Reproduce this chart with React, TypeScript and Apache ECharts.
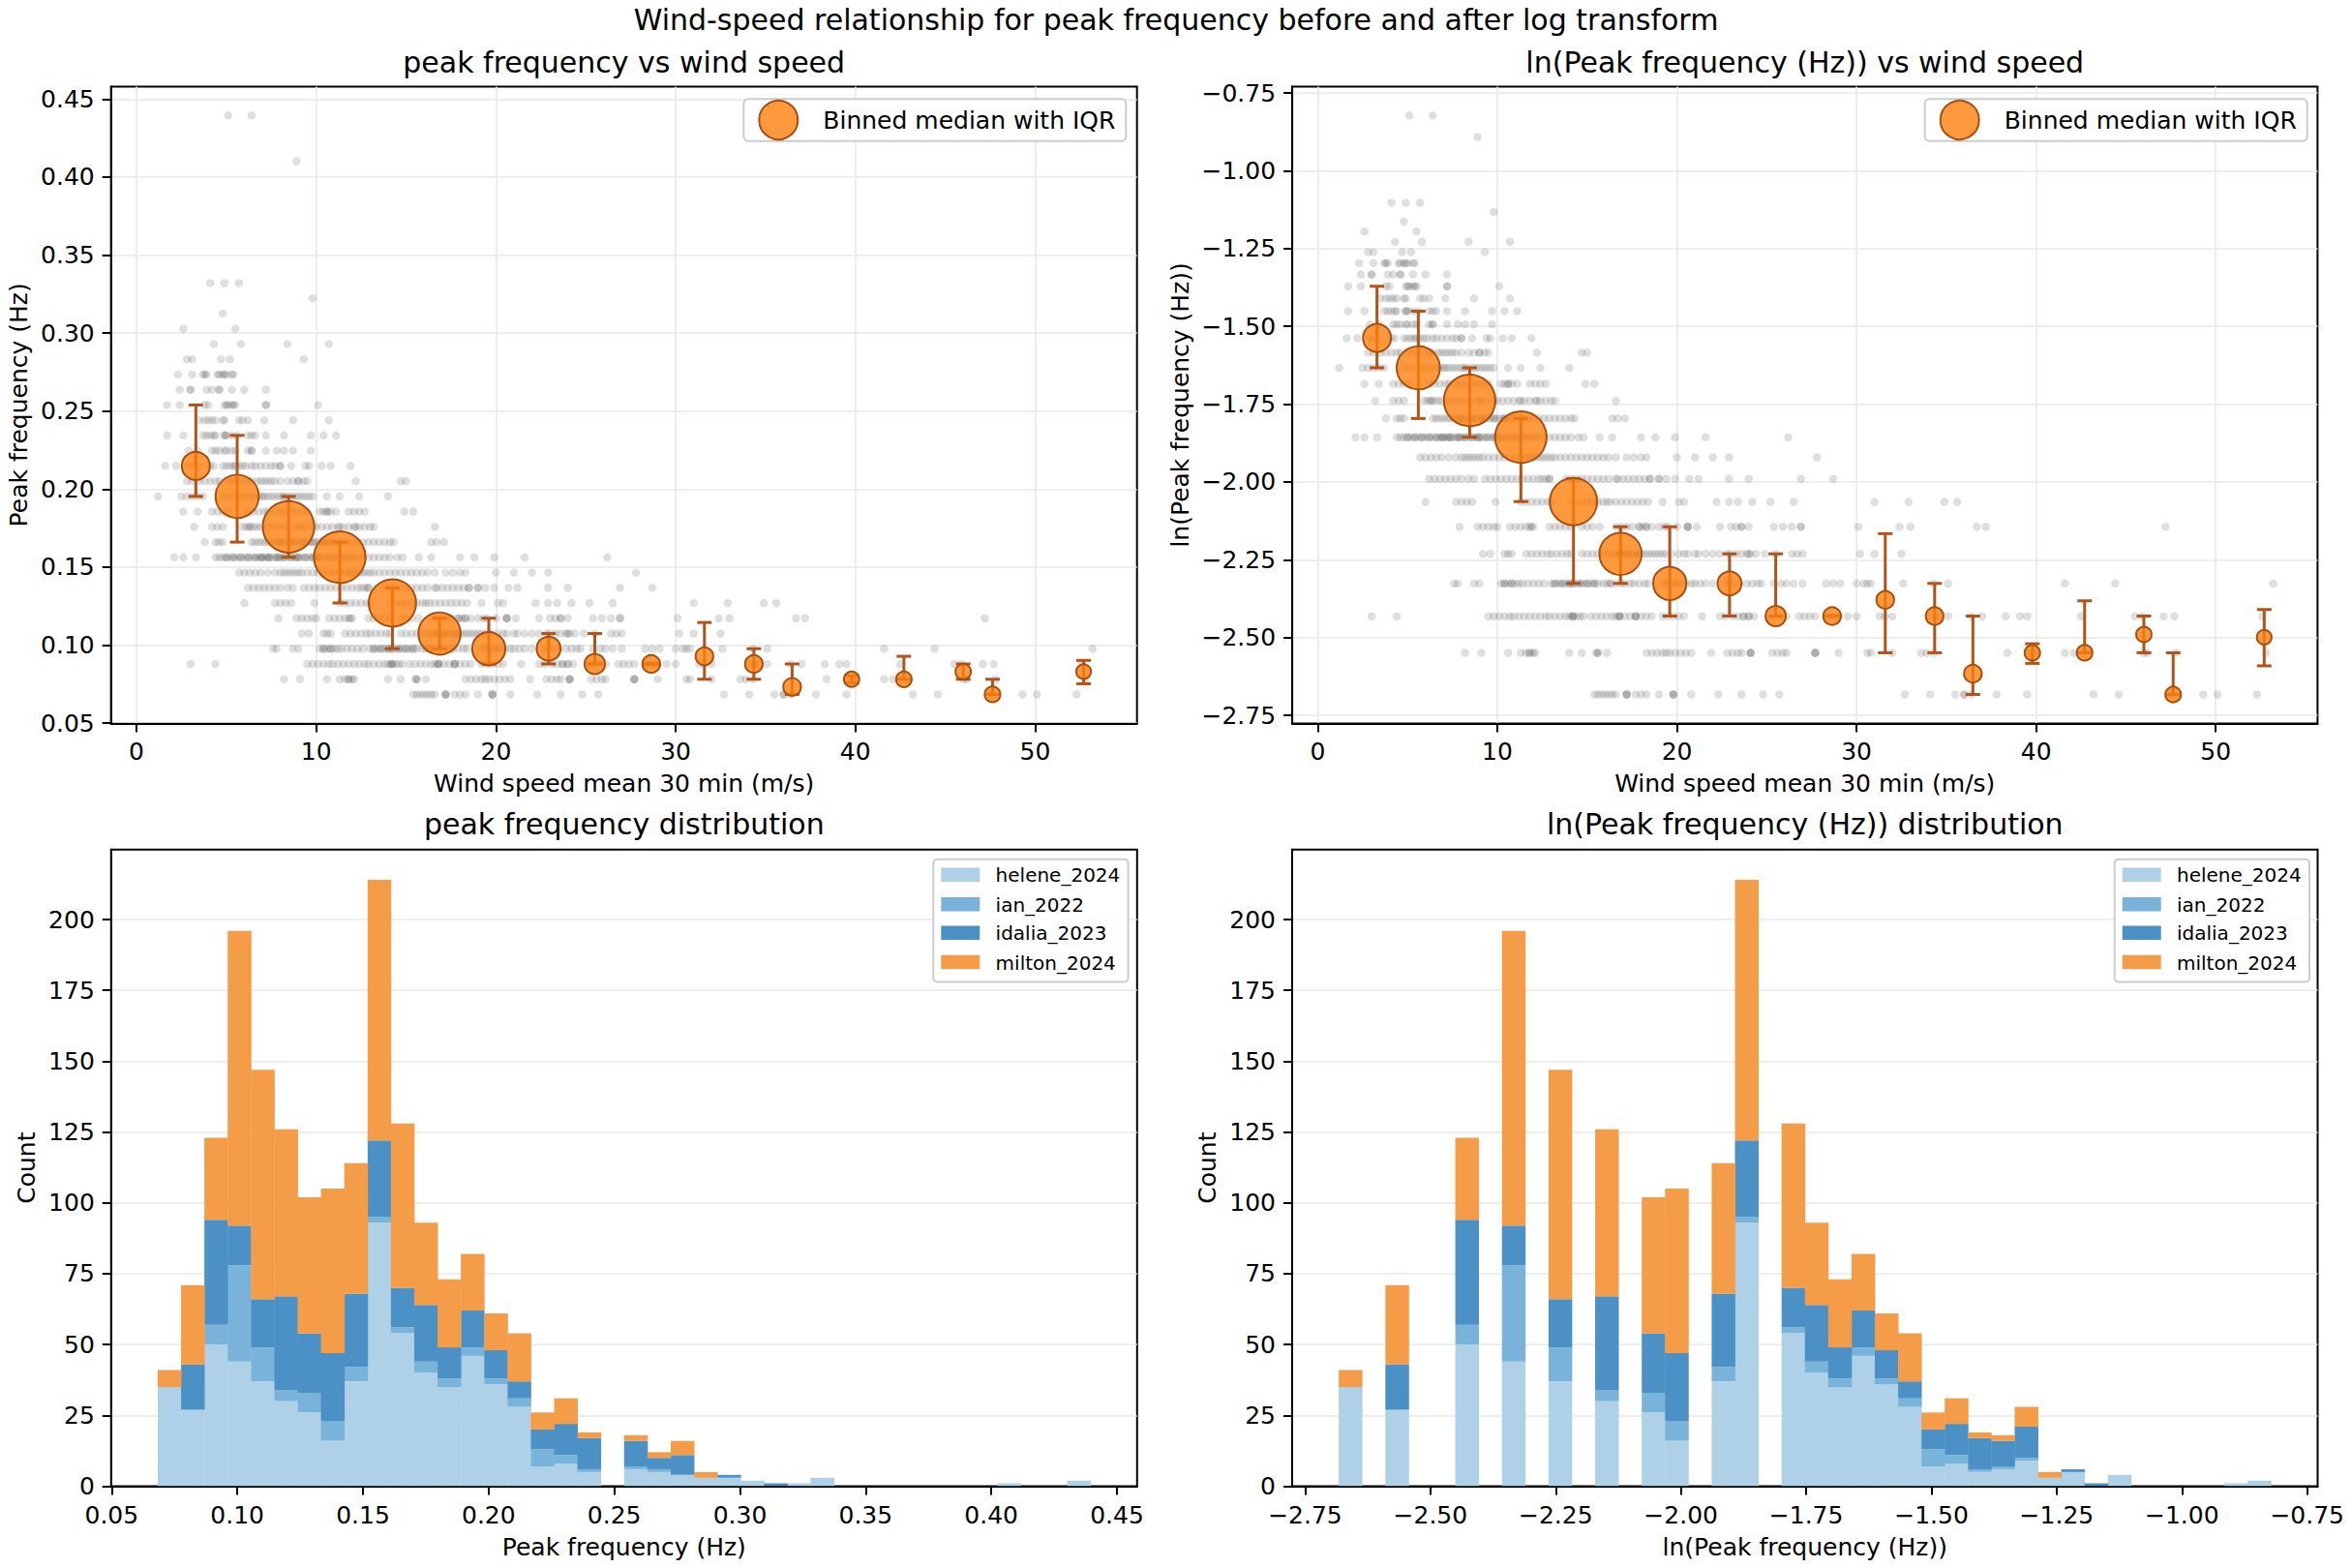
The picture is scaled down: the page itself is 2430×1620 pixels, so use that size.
import React, { useEffect, useRef } from "react";
import * as echarts from "echarts";

const FONT = '"DejaVu Sans", sans-serif';

// ---------- raw data ----------
// quantised peak-frequency levels (Hz)
const levelFreq = [
  0.06836, 0.07813, 0.08789, 0.09766, 0.10742, 0.11719, 0.12695, 0.13672, 0.14648, 0.15625,
  0.16602, 0.17578, 0.18555, 0.19531, 0.20508, 0.21484, 0.22461, 0.23438, 0.24414, 0.25391,
  0.26367, 0.27344, 0.2832, 0.29297, 0.30273, 0.3125, 0.32227, 0.33203, 0.41016, 0.43945,
];

// wind speeds (m/s) of the observations at each level
const ws07 = [15.4, 15.6, 15.8, 16.0, 16.2, 16.4, 16.6, 17.2, 17.2, 17.2, 17.7, 18.0, 18.3, 19.0, 19.8, 19.8, 19.8, 20.8, 22.3, 23.6, 24.8, 25.7, 32.7, 34.1, 35.5, 36.0, 36.0, 36.4, 37.8, 39.5, 43.2, 44.6, 47.5, 47.7, 49.3, 50.1, 52.3];
const ws08 = [8.2, 9.1, 10.6, 11.3, 11.6, 11.8, 11.8, 12.0, 12.1, 14.0, 14.7, 15.5, 15.6, 15.6, 16.1, 18.3, 18.6, 18.9, 19.2, 19.4, 19.6, 19.9, 20.2, 20.5, 20.8, 21.9, 22.8, 23.1, 23.4, 23.6, 24.1, 24.1, 24.1, 25.3, 25.6, 25.9, 26.1, 27.7, 27.7, 27.7, 29.0, 30.6, 30.8, 32.0, 33.6, 33.9, 34.3, 38.4, 39.6, 39.8, 40.0, 41.6, 42.1, 42.6, 42.9, 46.0, 46.2, 47.8, 52.8];
const ws09 = [3.0, 4.4, 9.5, 9.8, 10.1, 10.4, 10.7, 10.9, 11.2, 11.5, 11.8, 12.1, 12.4, 12.7, 12.9, 13.2, 13.5, 13.8, 14.0, 14.2, 14.2, 14.2, 14.4, 14.6, 14.8, 15.2, 15.5, 15.8, 16.1, 16.4, 16.6, 16.8, 16.8, 16.8, 17.1, 17.4, 17.7, 17.7, 17.7, 18.0, 18.3, 18.6, 19.2, 19.5, 19.8, 20.1, 20.4, 21.4, 22.4, 22.7, 23.1, 23.4, 23.7, 23.7, 24.0, 24.0, 24.3, 25.2, 25.5, 25.8, 26.1, 26.8, 27.1, 27.4, 27.7, 28.4, 28.6, 28.8, 29.0, 29.5, 30.0, 31.3, 31.6, 32.0, 34.1, 34.4, 34.6, 35.1, 36.4, 37.0, 38.3, 39.1, 39.5, 42.5, 45.5, 45.9, 47.1, 47.7, 52.6];
const ws10 = [7.6, 7.8, 8.7, 9.0, 10.2, 10.4, 10.4, 10.6, 10.8, 10.8, 11.0, 11.2, 11.4, 11.7, 12.0, 12.3, 12.6, 13.0, 13.2, 13.2, 13.4, 13.6, 13.6, 13.8, 14.0, 14.0, 14.2, 14.2, 14.4, 14.6, 14.6, 14.8, 15.0, 15.0, 15.2, 15.4, 15.4, 15.6, 15.9, 16.1, 16.3, 16.3, 16.6, 16.9, 17.1, 17.4, 17.6, 17.9, 18.2, 18.4, 19.2, 19.4, 19.6, 19.8, 20.0, 20.2, 20.5, 20.8, 21.0, 21.3, 21.6, 22.0, 22.7, 22.9, 23.1, 23.5, 23.9, 24.2, 24.5, 24.7, 25.4, 25.8, 26.1, 26.5, 27.0, 28.3, 28.7, 29.1, 30.0, 30.4, 30.6, 30.8, 32.6, 34.3, 35.1, 41.6, 44.4, 53.2];
const ws11 = [9.2, 9.6, 10.4, 10.6, 10.8, 11.6, 11.9, 12.2, 12.5, 12.8, 13.0, 13.3, 13.6, 13.9, 14.1, 14.7, 15.0, 15.3, 15.6, 15.9, 16.2, 16.4, 16.6, 16.8, 16.8, 17.0, 17.2, 17.2, 17.4, 17.6, 17.8, 17.8, 18.0, 18.2, 18.4, 18.6, 18.8, 19.0, 19.2, 19.4, 19.7, 20.1, 20.4, 20.6, 21.0, 21.2, 21.6, 22.0, 22.4, 22.8, 23.0, 23.3, 23.6, 23.9, 24.0, 24.1, 24.4, 24.9, 25.5, 26.4, 26.7, 27.0, 30.2, 31.0, 32.5];
const ws12 = [7.9, 8.9, 9.2, 9.5, 9.8, 10.0, 10.7, 11.0, 11.3, 11.6, 11.8, 11.9, 12.0, 12.9, 13.2, 13.5, 13.8, 14.1, 14.7, 15.0, 15.3, 15.7, 16.6, 16.9, 17.2, 17.5, 17.9, 17.9, 18.1, 18.3, 18.3, 18.6, 19.0, 19.3, 19.5, 20.0, 20.6, 20.6, 20.6, 21.1, 22.4, 23.0, 23.3, 23.6, 23.6, 24.0, 25.4, 25.9, 26.4, 26.9, 26.9, 30.1, 32.4, 33.0, 36.7, 37.2, 47.2];
const ws13 = [6.0, 7.7, 8.0, 8.3, 8.6, 9.9, 11.3, 11.6, 11.9, 12.2, 12.5, 12.8, 13.0, 14.1, 14.4, 14.7, 15.0, 15.3, 15.6, 15.9, 16.1, 16.3, 16.6, 16.9, 17.2, 17.5, 17.8, 18.1, 18.4, 19.2, 20.1, 20.4, 22.2, 22.9, 23.4, 24.2, 25.2, 26.5, 31.0, 32.9, 34.9, 35.6];
const ws14 = [6.2, 6.5, 6.8, 7.1, 7.4, 7.7, 8.0, 8.4, 8.7, 9.3, 9.6, 9.9, 10.2, 10.5, 10.8, 11.1, 11.4, 11.7, 12.0, 12.3, 12.5, 12.7, 12.9, 12.9, 13.8, 14.1, 14.4, 14.7, 15.0, 15.3, 15.6, 15.9, 16.2, 16.6, 16.7, 17.0, 17.3, 17.6, 17.9, 18.2, 18.5, 18.5, 19.0, 19.0, 19.4, 19.9, 20.7, 21.2, 22.9, 24.0, 26.9, 28.7];
const ws15 = [5.7, 6.0, 6.3, 6.6, 6.9, 7.3, 7.7, 8.0, 8.2, 8.4, 8.6, 8.8, 9.0, 9.2, 9.5, 9.8, 10.1, 10.4, 10.7, 11.0, 11.3, 11.6, 11.8, 12.0, 12.2, 12.4, 12.6, 12.8, 13.0, 13.2, 13.5, 13.8, 14.1, 14.4, 14.7, 15.0, 15.3, 15.6, 15.9, 16.2, 16.6, 17.2, 17.6, 18.0, 18.3, 20.0, 21.0, 22.0, 22.9, 27.8];
const ws16 = [2.1, 2.6, 3.3, 4.4, 4.6, 4.8, 5.0, 5.0, 5.2, 5.4, 5.4, 5.6, 5.8, 5.8, 6.0, 6.2, 6.2, 6.4, 6.6, 6.6, 6.8, 6.9, 7.0, 7.0, 7.2, 7.3, 7.4, 7.4, 7.6, 7.8, 7.8, 7.9, 8.0, 8.2, 8.2, 8.4, 8.6, 8.6, 8.8, 8.9, 9.0, 9.0, 9.2, 9.4, 9.4, 9.6, 9.8, 9.8, 10.0, 10.2, 10.2, 10.5, 10.7, 10.9, 11.1, 11.3, 11.5, 11.7, 11.9, 12.1, 12.3, 12.6, 12.9, 13.2, 13.5, 13.8, 14.1, 14.5, 14.8, 15.7, 16.4, 18.0, 18.8, 19.9, 21.6, 26.2];
const ws17 = [3.8, 4.4, 4.6, 4.8, 6.4, 6.6, 6.8, 7.0, 7.2, 7.4, 7.6, 7.8, 8.0, 8.0, 8.2, 8.4, 8.6, 8.6, 8.8, 9.0, 9.2, 9.2, 9.4, 9.6, 9.8, 9.8, 10.0, 10.2, 10.4, 10.4, 10.6, 10.8, 11.0, 11.3, 11.4, 11.7, 12.0, 12.3, 12.6, 12.9, 13.2, 13.5, 13.8, 14.1, 14.3, 16.4, 16.7, 17.1];
const ws18 = [3.2, 4.2, 4.5, 4.8, 5.9, 6.1, 6.3, 6.3, 6.5, 6.7, 6.9, 7.3, 7.6, 7.9, 8.2, 8.5, 8.9, 9.1, 9.4, 9.8, 10.0, 10.3, 10.6, 10.9, 11.2, 11.3, 11.5, 11.8, 12.1, 12.2, 12.4, 12.7, 13.0, 13.2, 16.6];
const ws19 = [2.6, 3.4, 4.2, 4.5, 4.8, 5.1, 6.2, 6.5, 6.8, 7.1, 7.3, 7.7, 8.0, 8.3, 8.6, 8.9, 9.2, 9.5, 10.2, 10.4, 10.6, 10.6, 10.8, 11.1, 11.8, 12.1, 12.4, 12.7, 14.9, 15.4];
const ws20 = [1.2, 2.5, 2.8, 3.1, 3.4, 3.7, 4.8, 5.1, 5.4, 5.7, 5.9, 6.2, 6.5, 6.8, 7.0, 7.1, 7.3, 7.5, 7.7, 7.9, 8.1, 8.2, 8.4, 8.6, 8.8, 9.0, 9.2, 9.4, 9.6, 9.8, 10.6, 11.3, 12.4, 14.0];
const ws21 = [2.8, 3.1, 3.5, 3.8, 4.1, 4.4, 4.6, 5.0, 5.3, 5.5, 5.9, 6.2, 6.4, 6.7, 6.9, 7.1, 7.3, 7.5, 7.7, 8.0, 8.4, 8.7, 9.0, 9.0, 9.3, 9.5, 12.2, 14.7, 15.0];
const ws22 = [1.6, 2.2, 2.9, 3.2, 3.5, 4.1, 4.3, 4.8, 5.0, 5.2, 5.4, 5.5, 5.7, 5.9, 6.1, 6.4, 6.6, 6.9, 7.2, 7.5, 7.7, 8.0, 8.0, 8.6, 9.4, 9.6, 10.3, 10.8, 11.9];
const ws23 = [2.9, 3.4, 4.2, 4.4, 4.6, 4.9, 5.0, 5.3, 5.5, 6.2, 6.4, 6.4, 7.2, 7.8, 8.2, 8.7, 9.7];
const ws24 = [1.7, 2.6, 3.7, 3.9, 4.1, 4.3, 4.4, 4.9, 4.9, 5.0, 5.3, 5.6, 6.2, 6.4, 6.6, 7.2, 8.2, 9.7, 10.4, 11.1];
const ws25 = [3.5, 3.8, 4.0, 4.2, 4.4, 4.8, 4.9, 5.7, 5.9, 6.2, 7.1, 8.7, 10.7];
const ws26 = [1.7, 2.4, 3.8, 4.0, 4.9, 5.0, 5.1, 5.3, 5.4, 5.5, 7.2, 7.2, 10.1];
const ws27 = [2.4, 3.0, 3.0, 3.9, 4.2, 4.6, 4.6, 5.3, 6.0, 7.2];
const ws28 = [2.3, 3.1, 3.7, 3.8, 3.9, 4.5, 4.6, 4.8, 4.9, 5.0, 5.3, 5.4];
const ws29 = [2.8, 3.1, 4.7, 5.2, 9.3];
const ws30 = [4.3, 5.8, 8.4, 10.7];
const ws31 = [2.6, 5.5];
const ws32 = [4.8];
const ws33 = [9.8];
const ws34 = [4.1, 4.9, 5.7];
const ws42 = [8.9];
const ws45 = [5.1, 6.4];
const windByLevel = [ws07, ws08, ws09, ws10, ws11, ws12, ws13, ws14, ws15, ws16, ws17, ws18, ws19, ws20, ws21, ws22, ws23, ws24, ws25, ws26, ws27, ws28, ws29, ws30, ws31, ws32, ws33, ws34, ws42, ws45];

// binned medians with IQR
const binWind = [3.3, 5.6, 8.46, 11.31, 14.24, 16.86, 19.6, 22.93, 25.5, 28.64, 31.6, 34.35, 36.48, 39.79, 42.7, 46.0, 47.63, 52.7];
const binCount = [85, 240, 352, 352, 293, 228, 130, 55, 32, 18, 18, 18, 18, 7, 8, 7, 8, 4];
const medLin = [0.2148, 0.1953, 0.1758, 0.1563, 0.127, 0.1074, 0.0977, 0.0977, 0.0879, 0.0879, 0.0928, 0.0879, 0.0732, 0.0781, 0.0781, 0.083, 0.0684, 0.083];
const q25Lin = [0.1953, 0.166, 0.1563, 0.127, 0.0977, 0.0977, 0.0879, 0.0879, 0.0879, 0.0879, 0.0781, 0.0781, 0.0684, 0.0757, 0.0781, 0.0781, 0.0684, 0.0752];
const q75Lin = [0.2539, 0.2344, 0.1953, 0.166, 0.1367, 0.1172, 0.1172, 0.1074, 0.1074, 0.0879, 0.1145, 0.0977, 0.0879, 0.0805, 0.0928, 0.0879, 0.0781, 0.0902];
const medLog = [-1.537, -1.633, -1.738, -1.856, -2.063, -2.231, -2.326, -2.326, -2.431, -2.431, -2.379, -2.431, -2.616, -2.549, -2.549, -2.49, -2.683, -2.499];
const q25Log = [-1.633, -1.796, -1.856, -2.063, -2.326, -2.326, -2.431, -2.431, -2.431, -2.431, -2.549, -2.549, -2.683, -2.583, -2.549, -2.549, -2.683, -2.591];
const q75Log = [-1.371, -1.451, -1.633, -1.796, -1.99, -2.144, -2.144, -2.231, -2.231, -2.431, -2.166, -2.326, -2.431, -2.52, -2.382, -2.431, -2.549, -2.41];

// counts per level for each storm
const stormNames = ["helene_2024", "ian_2022", "idalia_2023", "milton_2024"];
const helene = [35, 27, 50, 44, 37, 30, 26, 16, 37, 93, 54, 40, 35, 46, 36, 28, 7, 8, 5, 6, 5, 4, 3, 3, 2, 0, 1, 3, 1, 2];
const ian = [0, 0, 7, 34, 12, 4, 7, 7, 5, 2, 2, 4, 3, 3, 2, 3, 6, 3, 1, 1, 1, 0, 0, 0, 0, 0, 0, 0, 0, 0];
const idalia = [0, 16, 37, 14, 17, 33, 21, 24, 26, 27, 14, 20, 11, 13, 10, 6, 7, 11, 11, 9, 4, 7, 0, 1, 0, 1, 0, 0, 0, 0];
const milton = [6, 28, 29, 104, 81, 59, 48, 58, 46, 92, 58, 29, 24, 20, 13, 17, 6, 9, 2, 2, 2, 5, 2, 0, 0, 0, 0, 0, 0, 0];
const stormCounts = [helene, ian, idalia, milton];

// ticks
const windTicks = [0, 10, 20, 30, 40, 50];
const freqTicks = [0.05, 0.1, 0.15, 0.2, 0.25, 0.3, 0.35, 0.4, 0.45];
const lnTicks = [-2.75, -2.5, -2.25, -2.0, -1.75, -1.5, -1.25, -1.0, -0.75];
const countTicks = [0, 25, 50, 75, 100, 125, 150, 175, 200];

// ---------- styles ----------
const stormColors = ["#afd1e7", "#79b3d9", "#4b91c5", "#f49c48"];
const DOT = "rgba(55,55,55,0.2)";
const MED_FILL = "rgba(255,127,14,0.8)";
const MED_EDGE = "#a84f12";
const ERR = "#b0541a";
const GRIDC = "#e9e9e9";

const fmtLn = (v: number) => (v < 0 ? "\u2212" : "") + Math.abs(v).toFixed(2);

function valueAxis(gi: number, min: number, max: number, ticks: number[], fmt: (v: number) => string, name: string, nameGap: number, grid = true) {
  return {
    type: "value",
    gridIndex: gi,
    min,
    max,
    name,
    nameLocation: "middle",
    nameGap,
    nameTextStyle: { fontSize: 25, fontFamily: FONT, color: "#000" },
    axisLine: { show: true, onZero: false, lineStyle: { color: "#000", width: 2 } },
    axisTick: { show: true, inside: false, length: 9, lineStyle: { color: "#000", width: 2 }, customValues: ticks },
    axisLabel: { show: true, margin: 17, fontSize: 25, fontFamily: FONT, color: "#000", customValues: ticks, formatter: fmt, showMinLabel: true, showMaxLabel: true },
    splitLine: { show: grid, lineStyle: { color: GRIDC, width: 1.6 } },
  };
}

function histRects(tf: (f: number) => number) {
  const nb = 40;
  const vals = levelFreq.map(tf);
  const lo = Math.min(...vals);
  const hi = Math.max(...vals);
  const w = (hi - lo) / nb;
  const counts = stormCounts.map(() => new Array(nb).fill(0));
  vals.forEach((v, i) => {
    let k = Math.floor((v - lo) / w + 1e-3);
    if (k >= nb) k = nb - 1;
    if (k < 0) k = 0;
    stormCounts.forEach((s, j) => {
      counts[j][k] += s[i];
    });
  });
  const base = new Array(nb).fill(0);
  const out: number[][][] = [];
  counts.forEach((c) => {
    const rects: number[][] = [];
    for (let k = 0; k < nb; k++) {
      if (c[k] > 0) {
        rects.push([lo + k * w, lo + (k + 1) * w, base[k], base[k] + c[k]]);
        base[k] += c[k];
      }
    }
    out.push(rects);
  });
  return { rects: out, lo, hi };
}

function rectSeries(gi: number, data: number[][], color: string, name: string) {
  return {
    type: "custom",
    name,
    xAxisIndex: gi,
    yAxisIndex: gi,
    silent: true,
    clip: true,
    z: 3,
    encode: { x: [0, 1], y: [2, 3] },
    data,
    renderItem: (params: any, api: any) => {
      const a = api.coord([api.value(0), api.value(3)]);
      const b = api.coord([api.value(1), api.value(2)]);
      return {
        type: "rect",
        shape: { x: a[0], y: a[1], width: b[0] - a[0] + 0.4, height: b[1] - a[1] },
        style: { fill: color },
      };
    },
  };
}

function errSeries(gi: number, data: number[][]) {
  return {
    type: "custom",
    xAxisIndex: gi,
    yAxisIndex: gi,
    silent: true,
    z: 4,
    encode: { x: 0, y: [1, 2] },
    data,
    renderItem: (params: any, api: any) => {
      const x = api.value(0);
      const pl = api.coord([x, api.value(1)]);
      const ph = api.coord([x, api.value(2)]);
      const cap = 7.5;
      const st = { stroke: ERR, lineWidth: 3 };
      return {
        type: "group",
        children: [
          { type: "line", shape: { x1: pl[0], y1: pl[1], x2: ph[0], y2: ph[1] }, style: st },
          { type: "line", shape: { x1: pl[0] - cap, y1: pl[1], x2: pl[0] + cap, y2: pl[1] }, style: st },
          { type: "line", shape: { x1: ph[0] - cap, y1: ph[1], x2: ph[0] + cap, y2: ph[1] }, style: st },
        ],
      };
    },
  };
}

function txt(x: number, y: number, text: string, size: number, align = "left") {
  return {
    type: "text",
    x,
    y,
    z: 102,
    style: { text, font: `${size}px ${FONT}`, fill: "#000", align, verticalAlign: "middle", textAlign: align, textVerticalAlign: "middle" },
  };
}

function buildOption() {
  const pts = windByLevel.flatMap((ws, i) => ws.map((w) => [w, levelFreq[i]]));
  const ptsLog = windByLevel.flatMap((ws, i) => ws.map((w) => [w, Math.log(levelFreq[i])]));
  const medL = binWind.map((x, i) => [x, medLin[i], binCount[i]]);
  const medG = binWind.map((x, i) => [x, medLog[i], binCount[i]]);
  const errL = binWind.map((x, i) => [x, q25Lin[i], q75Lin[i]]);
  const errG = binWind.map((x, i) => [x, q25Log[i], q75Log[i]]);

  const hLin = histRects((f) => f);
  const hLog = histRects((f) => Math.log(f));
  const padLin = 0.05 * (hLin.hi - hLin.lo);
  const padLog = 0.05 * (hLog.hi - hLog.lo);
  let maxStack = 0;
  hLin.rects[3].forEach((r) => (maxStack = Math.max(maxStack, r[3])));
  const countMax = maxStack * 1.05;

  const G = [
    { left: 114.7, top: 89.4, width: 1060, height: 658 },
    { left: 1335.1, top: 89.4, width: 1059.3, height: 658 },
    { left: 114.8, top: 877.7, width: 1060, height: 657.8 },
    { left: 1335, top: 877.7, width: 1059.5, height: 657.8 },
  ];
  const grid = G.map((g) => ({ ...g, show: true, borderColor: "#000", borderWidth: 2, backgroundColor: "transparent", containLabel: false, outerBoundsMode: "none" }));

  const medSymbol = (v: number[]) => Math.sqrt(200 + 7.5 * v[2]);
  const medSeries = (gi: number, data: number[][]) => ({
    type: "scatter",
    xAxisIndex: gi,
    yAxisIndex: gi,
    silent: true,
    z: 5,
    data,
    symbol: "circle",
    symbolSize: medSymbol,
    itemStyle: { color: MED_FILL, borderColor: MED_EDGE, borderWidth: 2, opacity: 1 },
  });
  const dotSeries = (gi: number, data: number[][]) => ({
    type: "scatter",
    xAxisIndex: gi,
    yAxisIndex: gi,
    silent: true,
    z: 2,
    data,
    symbol: "circle",
    symbolSize: 8.5,
    large: false,
    itemStyle: { color: DOT },
  });

  const topLegend = (x0: number) => [
    { type: "rect", z: 100, shape: { x: x0, y: 102.3, width: 395, height: 43.4, r: 5 }, style: { fill: "rgba(255,255,255,0.8)", stroke: "#cccccc", lineWidth: 2 } },
    { type: "circle", z: 101, shape: { cx: x0 + 36, cy: 124, r: 20 }, style: { fill: MED_FILL, stroke: MED_EDGE, lineWidth: 2 } },
    txt(x0 + 82, 124.5, "Binned median with IQR", 25),
  ];
  const histLegend = (x0: number) => {
    const els: any[] = [
      { type: "rect", z: 100, shape: { x: x0, y: 887.8, width: 201.3, height: 126.6, r: 4 }, style: { fill: "rgba(255,255,255,0.8)", stroke: "#cccccc", lineWidth: 2 } },
    ];
    const ys = [903.8, 934.2, 963.7, 994];
    stormNames.forEach((n, i) => {
      els.push({ type: "rect", z: 101, shape: { x: x0 + 8, y: ys[i] - 7.2, width: 40, height: 14.4 }, style: { fill: stormColors[i] } });
      els.push(txt(x0 + 64.3, ys[i] + 0.5, n, 20));
    });
    return els;
  };

  const titleStyle = { fontSize: 30, fontWeight: "normal", fontFamily: FONT, color: "#000" };
  const title = [
    { text: "Wind-speed relationship for peak frequency before and after log transform", left: 1215, top: 5.5, textAlign: "center", padding: 0, textStyle: titleStyle },
    { text: "peak frequency vs wind speed", left: 644.7, top: 49.5, textAlign: "center", padding: 0, textStyle: titleStyle },
    { text: "ln(Peak frequency (Hz)) vs wind speed", left: 1864.75, top: 49.5, textAlign: "center", padding: 0, textStyle: titleStyle },
    { text: "peak frequency distribution", left: 644.8, top: 836, textAlign: "center", padding: 0, textStyle: titleStyle },
    { text: "ln(Peak frequency (Hz)) distribution", left: 1864.75, top: 836, textAlign: "center", padding: 0, textStyle: titleStyle },
  ];

  const xAxis = [
    valueAxis(0, -1.42, 55.67, windTicks, (v) => String(v), "Wind speed mean 30 min (m/s)", 50),
    valueAxis(1, -1.42, 55.67, windTicks, (v) => String(v), "Wind speed mean 30 min (m/s)", 50),
    valueAxis(2, hLin.lo - padLin, hLin.hi + padLin, freqTicks, (v) => v.toFixed(2), "Peak frequency (Hz)", 50, false),
    valueAxis(3, hLog.lo - padLog, hLog.hi + padLog, lnTicks, fmtLn, "ln(Peak frequency (Hz))", 50, false),
  ];
  const yAxis = [
    valueAxis(0, 0.0498, 0.458, freqTicks, (v) => v.toFixed(2), "Peak frequency (Hz)", 83),
    valueAxis(1, -2.776, -0.729, lnTicks, fmtLn, "ln(Peak frequency (Hz))", 103),
    valueAxis(2, 0, countMax, countTicks, (v) => String(v), "Count", 75),
    valueAxis(3, 0, countMax, countTicks, (v) => String(v), "Count", 75),
  ];

  const series: any[] = [
    dotSeries(0, pts),
    errSeries(0, errL),
    medSeries(0, medL),
    dotSeries(1, ptsLog),
    errSeries(1, errG),
    medSeries(1, medG),
  ];
  hLin.rects.forEach((r, j) => series.push(rectSeries(2, r, stormColors[j], stormNames[j])));
  hLog.rects.forEach((r, j) => series.push(rectSeries(3, r, stormColors[j], stormNames[j])));

  return {
    animation: false,
    backgroundColor: "#ffffff",
    textStyle: { fontFamily: FONT },
    title,
    grid,
    xAxis,
    yAxis,
    series,
    graphic: { elements: [...topLegend(768.3), ...topLegend(1988.7), ...histLegend(964.3), ...histLegend(2184.7)] },
  };
}

export default function App() {
  const ref = useRef<HTMLDivElement>(null);
  useEffect(() => {
    if (!ref.current) return;
    const chart = echarts.init(ref.current, undefined, { renderer: "svg", width: 2430, height: 1620 });
    chart.setOption(buildOption() as any);
    return () => chart.dispose();
  }, []);
  return <div ref={ref} style={{ position: "fixed", left: 0, top: 0, width: 2430, height: 1620, background: "#fff" }} />;
}
